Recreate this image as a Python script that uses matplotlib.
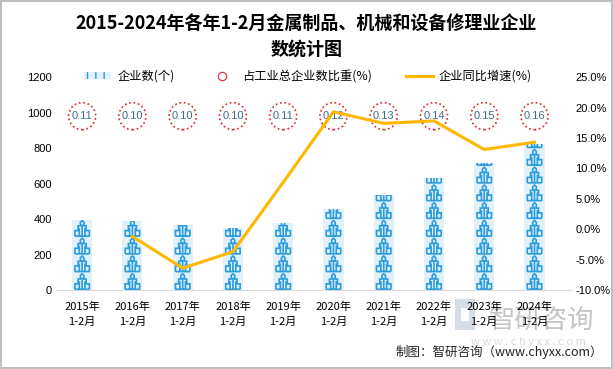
"""
plot.py
"""

import numpy as np
import matplotlib.pyplot as plt
from matplotlib.path import Path
from matplotlib.patches import PathPatch, Rectangle, Patch
from matplotlib.lines import Line2D
from matplotlib.ticker import FuncFormatter

plt.rcParams['font.family'] = ['Noto Sans CJK SC', 'DejaVu Sans']

years = ['2015年\n1-2月', '2016年\n1-2月', '2017年\n1-2月', '2018年\n1-2月',
         '2019年\n1-2月', '2020年\n1-2月', '2021年\n1-2月', '2022年\n1-2月',
         '2023年\n1-2月', '2024年\n1-2月']
companies = [392, 389, 366, 350, 377, 456, 535, 631, 715, 822]
share = [0.11, 0.10, 0.10, 0.10, 0.11, 0.12, 0.13, 0.14, 0.15, 0.16]
growth = [np.nan, -1.2, -6.4, -3.7, 7.7, 19.3, 17.4, 17.8, 13.1, 14.3]

bar_fill = '#E1F1FB'
icon_blue = '#2C9CDD'
circle_red = '#E0242B'
line_gold = '#FFB800'

x = np.arange(len(years))
bar_w = 0.4

fig = plt.figure(figsize=(6.13, 3.69), dpi=100)
ax = fig.add_axes([0.093, 0.214, 0.838, 0.577])

# Light bars as the background of the pictograph columns.
bars = ax.bar(x, companies, width=bar_w, color=bar_fill, zorder=1)

# One small tower icon for every 100 companies, clipped at the bar top.
icon_verts = [(-0.9, 0.04), (-0.9, 0.35), (-0.5, 0.35), (-0.5, 0.62),
              (-0.22, 0.62), (-0.22, 0.82), (0.0, 0.92), (0.22, 0.82),
              (0.22, 0.62), (0.5, 0.62), (0.5, 0.35), (0.9, 0.35),
              (0.9, 0.04),
              (-0.35, 0.04), (-0.35, 0.5),
              (0.35, 0.04), (0.35, 0.5),
              (0.0, 0.04), (0.0, 0.7),
              (-0.9, 0.04), (0.9, 0.04)]
icon_codes = ([Path.MOVETO] + [Path.LINETO] * 12
              + [Path.MOVETO, Path.LINETO] * 4)
for i, b in enumerate(bars):
    n_icons = int(np.ceil(companies[i] / 100.0))
    for k in range(n_icons):
        verts = [(x[i] + u * bar_w * 0.4, k * 100 + v * 100)
                 for (u, v) in icon_verts]
        patch = PathPatch(Path(verts, icon_codes), facecolor='none',
                          edgecolor=icon_blue, lw=1.2, zorder=2)
        ax.add_patch(patch)
        patch.set_clip_path(b)

# Dotted circles holding the share values.
ax.scatter(x, [980] * len(x), s=380, facecolors='none',
           edgecolors=circle_red, linestyles=':', linewidths=1.2, zorder=3)
for i in range(len(x)):
    ax.text(x[i], 980, '%.2f' % share[i], ha='center', va='center',
            fontsize=8, color='#44698F', zorder=4,
            family=['Liberation Sans', 'DejaVu Sans'])

ax.set_xlim(-0.5, 9.72)
ax.set_ylim(0, 1200)
ax.set_yticks(np.arange(0, 1201, 200))
ax.set_xticks(x)
ax.set_xticklabels(years, fontsize=8.5, linespacing=1.7)
ax.tick_params(length=0, labelsize=8)
ax.tick_params(axis='x', pad=8)
for lab in ax.get_yticklabels():
    lab.set_family(['Liberation Sans', 'DejaVu Sans'])
for s in ['top', 'left', 'right']:
    ax.spines[s].set_visible(False)
ax.spines['bottom'].set_color('#D9D9D9')

ax2 = ax.twinx()
ax2.plot(x, growth, color=line_gold, linewidth=2.2, zorder=5)
ax2.set_ylim(-10, 25)
ax2.set_yticks(np.arange(-10, 25.1, 5))
ax2.yaxis.set_major_formatter(FuncFormatter(lambda v, p: '%.1f%%' % v))
ax2.tick_params(length=0, labelsize=8)
for lab in ax2.get_yticklabels():
    lab.set_family(['Liberation Sans', 'DejaVu Sans'])
for s in ['top', 'left', 'right', 'bottom']:
    ax2.spines[s].set_visible(False)

handles = [Patch(facecolor=bar_fill, edgecolor=icon_blue, hatch='||', lw=0),
           Line2D([], [], marker='o', linestyle='none', markersize=6,
                  markerfacecolor='none', markeredgecolor=circle_red,
                  markeredgewidth=0.8),
           Line2D([], [], color=line_gold, linewidth=2.2)]
labels = ['企业数(个)', '占工业总企业数比重(%)', '企业同比增速(%)']
fig.legend(handles, labels, loc='center', bbox_to_anchor=(0.503, 0.794),
           ncol=3, frameon=False, fontsize=8.8, handlelength=2.2,
           handleheight=0.5, columnspacing=2.8, handletextpad=0.5)

fig.text(0.5, 0.901, '2015-2024年各年1-2月金属制品、机械和设备修理业企业\n数统计图',
         ha='center', va='center', fontsize=13, fontweight='bold',
         linespacing=1.45)

# Watermark (kept behind the axes) and source note.
fig.add_artist(Rectangle((0.742, 0.105), 0.033, 0.085, facecolor='#D5DDE6',
                         edgecolor='none', transform=fig.transFigure,
                         zorder=-2))
fig.add_artist(Rectangle((0.752, 0.13), 0.013, 0.035, facecolor='white',
                         edgecolor='none', transform=fig.transFigure,
                         zorder=-1))
fig.text(0.97, 0.133, '智研咨询', ha='right', va='center', fontsize=19,
         color='#C4C4C4', zorder=-1)
fig.text(0.955, 0.072, 'w w w . c h y x x . c o m', ha='right', va='center',
         fontsize=8, color='#DADADA', zorder=-1)
fig.text(0.983, 0.046, '制图：智研咨询（www.chyxx.com）', ha='right',
         va='center', fontsize=9, color='#222222')

fig.add_artist(Rectangle((0.001, 0.002), 0.997, 0.995, fill=False,
                         edgecolor='#BFBFBF', lw=1.5,
                         transform=fig.transFigure))

fig.savefig('out.png', dpi=100)
